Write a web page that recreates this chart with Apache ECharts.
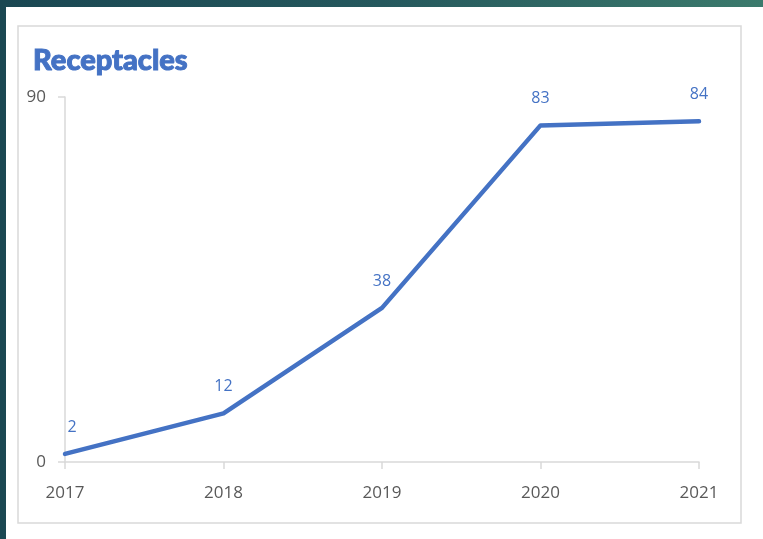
<!DOCTYPE html>
<html>
<head>
<meta charset="utf-8">
<script src="https://cdn.jsdelivr.net/npm/echarts@6/dist/echarts.min.js"></script>
<style>
  html, body { margin: 0; padding: 0; width: 763px; height: 539px; overflow: hidden;
    background: linear-gradient(to right, #1a4752 0%, #25585d 50%, #3b7a6c 100%); }
  #panel { position: absolute; left: 6px; top: 7px; width: 757px; height: 532px; background: #ffffff; }
  #chart { position: absolute; left: 0; top: 0; width: 763px; height: 539px; }
</style>
</head>
<body>
<div id="panel"></div>
<div id="chart"></div>
<script>
const title = 'Receptacles';
const categories = ['2017', '2018', '2019', '2020', '2021'];
const values = [2, 12, 38, 83, 84];
const yMin = 0;
const yMax = 90;

const chart = echarts.init(document.getElementById('chart'), null, { renderer: 'canvas' });
const blue = '#4472C4';
const axisGray = '#d9d9d9';
const labelGray = '#595959';

chart.setOption({
  backgroundColor: 'transparent',
  animation: false,
  graphic: [{
    type: 'rect',
    shape: { x: 18, y: 26, width: 723, height: 497 },
    style: { fill: 'none', stroke: '#d9d9d9', lineWidth: 1.5 },
    z: -1, silent: true
  }],
  title: {
    text: title,
    left: 28,
    top: 41,
    textStyle: { fontFamily: 'Lato', fontWeight: 900, fontSize: 29, color: blue,
      textBorderColor: blue, textBorderWidth: 1 }
  },
  grid: { left: 65, right: 64, top: 97, bottom: 77, containLabel: false },
  xAxis: {
    type: 'category',
    data: categories,
    boundaryGap: false,
    axisLine: { lineStyle: { color: axisGray, width: 1.5 } },
    axisTick: { show: true, length: 7, alignWithLabel: true, lineStyle: { color: axisGray, width: 1.5 } },
    axisLabel: { color: labelGray, fontFamily: 'Open Sans', fontSize: 17, margin: 23 },
    splitLine: { show: false }
  },
  yAxis: {
    type: 'value',
    min: yMin,
    max: yMax,
    interval: 90,
    axisLine: { show: true, lineStyle: { color: axisGray, width: 1.5 } },
    axisTick: { show: true, length: 7, lineStyle: { color: axisGray, width: 1.5 } },
    axisLabel: { color: labelGray, fontFamily: 'Open Sans', fontSize: 17, margin: 19 },
    splitLine: { show: false }
  },
  series: [{
    type: 'line',
    data: values.map((v, i) => i === 0 ? { value: v, label: { offset: [7, 0] } } : v),
    symbol: 'circle',
    symbolSize: 3,
    itemStyle: { color: blue },
    lineStyle: { color: blue, width: 4.5, cap: 'round', join: 'round' },
    label: {
      show: true,
      position: 'top',
      distance: 17,
      color: blue,
      fontFamily: 'Open Sans',
      fontSize: 16
    }
  }]
});
</script>
</body>
</html>
